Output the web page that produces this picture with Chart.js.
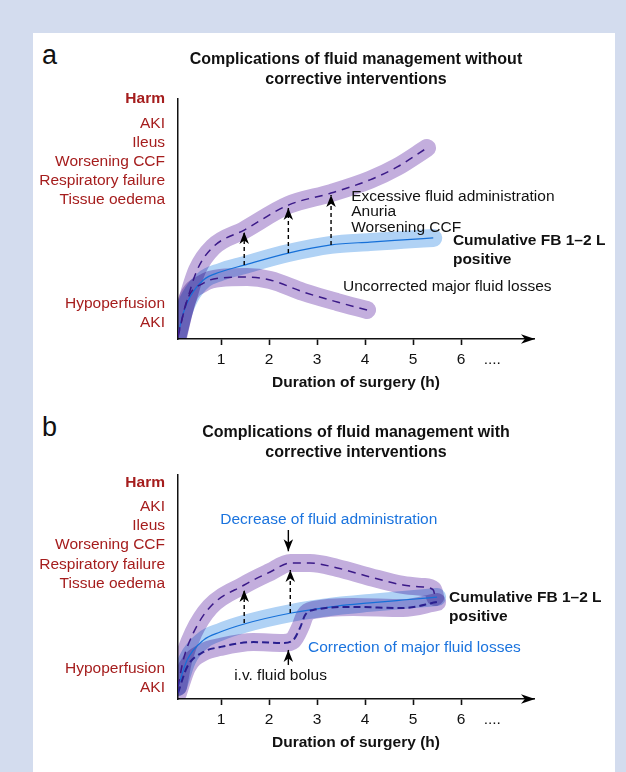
<!DOCTYPE html>
<html>
<head>
<meta charset="utf-8">
<script src="https://cdn.jsdelivr.net/npm/chart.js@4.4.1/dist/chart.umd.min.js"></script>
<style>
  html, body { margin: 0; padding: 0; }
  body { width: 626px; height: 772px; background: #d3dcee; position: relative; overflow: hidden;
         font-family: "Liberation Sans", Arial, sans-serif; }
  #panel { position: absolute; left: 33px; top: 33px; width: 582px; height: 739px; background: #fff; }
  canvas { position: absolute; left: 0; }
  .letter { position: absolute; left: 42px; font-size: 27px; line-height: 27px; color: #111; }
</style>
</head>
<body>
<div id="panel"></div>
<div class="letter" style="top:42px">a</div>
<div class="letter" style="top:414px">b</div>
<canvas id="chartA" width="626" height="395" style="top:0"></canvas>
<canvas id="chartB" width="626" height="377" style="top:395px"></canvas>
<script>
// x axis (hours) and y axis (harm) labels
const xTickValues = [1, 2, 3, 4, 5, 6, 6.65];
const xTickLabels = ['1', '2', '3', '4', '5', '6', '....'];
const harmLabels = ['Harm', 'AKI', 'Ileus', 'Worsening CCF', 'Respiratory failure', 'Tissue oedema', 'Hypoperfusion', 'AKI'];
const harmPosA = [10, 8.96, 8.17, 7.38, 6.58, 5.79, 1.46, 0.67];
const harmPosB = [9.64, 8.57, 7.72, 6.88, 5.98, 5.13, 1.34, 0.49];

// panel a curves [hours, harm]
const excessA = [[0.1, 0.17], [0.25, 1.33], [0.5, 2.88], [0.83, 3.83], [1.48, 4.54], [2.4, 5.58], [3.29, 6.08], [4.1, 6.63], [4.67, 7.17], [5.29, 7.96]];
const balanceA = [[0.1, 0.17], [0.21, 1.08], [0.35, 1.75], [0.63, 2.46], [0.98, 2.79], [1.48, 3.08], [2.4, 3.58], [3.29, 3.92], [4.1, 4.04], [4.79, 4.13], [5.42, 4.21]];
const lossesA = [[0.1, 0.08], [0.29, 1.63], [0.63, 2.33], [0.98, 2.54], [1.54, 2.58], [2.02, 2.46], [2.71, 1.96], [3.42, 1.54], [4.04, 1.21]];
const arrowsA = [[1.48, 3.08, 4.46], [2.4, 3.58, 5.46], [3.29, 3.92, 6.0]];

// panel b curves
const excessB = [[0.1, 0.54], [0.21, 1.74], [0.42, 2.95], [0.77, 4.11], [1.48, 5.09], [2.02, 5.67], [2.44, 6.07], [2.85, 6.07], [3.42, 5.85], [4.1, 5.45], [4.79, 5.09], [5.21, 5.0], [5.42, 4.87], [5.46, 4.55]];
const balanceB = [[0.1, 0.54], [0.29, 1.74], [0.63, 2.63], [0.98, 2.99], [1.48, 3.35], [2.46, 3.84], [3.42, 4.15], [4.1, 4.29], [4.79, 4.42], [5.5, 4.55]];
const lossesB = [[0.1, 0.27], [0.29, 1.43], [0.63, 2.1], [0.98, 2.32], [1.67, 2.54], [2.29, 2.5], [2.5, 2.63], [2.65, 3.21], [2.75, 3.75], [2.92, 3.97], [3.75, 4.11], [4.79, 4.06], [5.5, 4.33]];
const arrowsB = [[1.48, 3.39, 4.87], [2.44, 3.84, 5.76]];
const decreaseArrowB = [2.4, 7.54, 6.6];
const bolusArrowB = [2.4, 1.52, 2.19];

const notesA = [
  { text: 'Excessive fluid administration', x: 3.71, y: 5.92 },
  { text: 'Anuria', x: 3.71, y: 5.29 },
  { text: 'Worsening CCF', x: 3.71, y: 4.63 },
  { text: 'Cumulative FB 1–2 L', x: 5.83, y: 4.08, bold: true },
  { text: 'positive', x: 5.83, y: 3.29, bold: true },
  { text: 'Uncorrected major fluid losses', x: 3.54, y: 2.17 },
];
const notesB = [
  { text: 'Decrease of fluid administration', x: 0.98, y: 7.99, color: '#1a73de' },
  { text: 'Cumulative FB 1–2 L', x: 5.75, y: 4.51, bold: true },
  { text: 'positive', x: 5.75, y: 3.66, bold: true },
  { text: 'Correction of major fluid losses', x: 2.81, y: 2.28, color: '#1a73de' },
  { text: 'i.v. fluid bolus', x: 1.27, y: 1.03 },
];

const FONT = '"Liberation Sans", Arial, sans-serif';
const TXT = 15.5;
Chart.defaults.font.family = FONT;
Chart.defaults.font.size = TXT;
Chart.defaults.color = '#111';

const PURPLE_BAND = '#c3aedd';
const BLUE_BAND = '#b0d2f5';

const toXY = (pts) => pts.map(([x, y]) => ({ x, y }));

function band(pts, color) {
  return {
    data: toXY(pts), borderColor: color, borderWidth: 18, borderCapStyle: 'round', borderJoinStyle: 'round',
    pointRadius: 0, cubicInterpolationMode: 'monotone', band: true, order: 3,
    clip: { left: 0, bottom: 0, top: false, right: false },
  };
}
function line(pts, color, width, dash) {
  return {
    data: toXY(pts), borderColor: color, borderWidth: width, borderDash: dash || [],
    pointRadius: 0, cubicInterpolationMode: 'monotone', order: 1,
    clip: { left: 0, bottom: 0, top: false, right: false },
  };
}
function arrow([x, from, to], dashed) {
  return {
    data: [{ x, y: from }, { x, y: to }], borderColor: '#000', borderWidth: 1.4,
    borderDash: dashed ? [4, 3] : [], pointRadius: 0, arrow: true, order: 0, clip: false,
  };
}

function drawHead(ctx, x0, y0, x1, y1, len, wid) {
  const ang = Math.atan2(y1 - y0, x1 - x0);
  ctx.save();
  ctx.translate(x1, y1);
  ctx.rotate(ang);
  ctx.beginPath();
  ctx.moveTo(0, 0);
  ctx.lineTo(-len, -wid / 2);
  ctx.lineTo(-len * 0.72, 0);
  ctx.lineTo(-len, wid / 2);
  ctx.closePath();
  ctx.fillStyle = '#000';
  ctx.fill();
  ctx.restore();
}

// thick bands overlap like ink (multiply)
const blendBands = {
  id: 'blendBands',
  beforeDatasetDraw(chart, args) {
    if (chart.data.datasets[args.index].band) {
      chart.ctx.save();
      chart.ctx.globalCompositeOperation = 'multiply';
    }
  },
  afterDatasetDraw(chart, args) {
    if (chart.data.datasets[args.index].band) chart.ctx.restore();
  },
};

const arrowHeads = {
  id: 'arrowHeads',
  afterDatasetsDraw(chart) {
    const ctx = chart.ctx;
    chart.data.datasets.forEach((ds, i) => {
      if (!ds.arrow) return;
      const pts = chart.getDatasetMeta(i).data;
      const a = pts[0], b = pts[pts.length - 1];
      drawHead(ctx, a.x, a.y, b.x, b.y, 12, 9.5);
    });
  },
  afterDraw(chart) {
    const { right, bottom } = chart.chartArea;
    drawHead(chart.ctx, right - 20, bottom, right + 1, bottom, 14, 9.5);
  },
};

const notes = {
  id: 'notes',
  afterDraw(chart, args, opts) {
    const { ctx, scales } = chart;
    ctx.save();
    ctx.textBaseline = 'middle';
    ctx.textAlign = 'left';
    (opts.items || []).forEach((n) => {
      ctx.font = (n.bold ? 'bold ' : '') + TXT + 'px ' + FONT;
      ctx.fillStyle = n.color || '#111';
      ctx.fillText(n.text, scales.x.getPixelForValue(n.x), scales.y.getPixelForValue(n.y));
    });
    ctx.restore();
  },
};

function makeChart(el, title, datasets, harmPos, noteItems, padding, titlePad) {
  return new Chart(el, {
    type: 'line',
    data: { datasets },
    plugins: [blendBands, arrowHeads, notes],
    options: {
      responsive: false,
      animation: false,
      layout: { padding },
      plugins: {
        legend: { display: false },
        tooltip: { enabled: false },
        title: {
          display: true, text: title, fullSize: false, color: '#111',
          font: { size: 16, weight: 'bold', lineHeight: 1.2 },
          padding: { top: 0, bottom: titlePad },
        },
        notes: { items: noteItems },
      },
      scales: {
        x: {
          type: 'linear', min: 0.1, max: 7.52,
          afterBuildTicks: (s) => { s.ticks = xTickValues.map((v) => ({ value: v })); },
          ticks: { autoSkip: false, maxRotation: 0, padding: 5, color: '#111', callback: (v, i) => xTickLabels[i] },
          grid: {
            drawOnChartArea: false, drawTicks: true, tickLength: 6, tickWidth: 1.6,
            tickColor: (c) => (c.index === xTickLabels.length - 1 ? 'rgba(0,0,0,0)' : '#111'),
          },
          border: { display: true, color: '#111', width: 1.5 },
          title: {
            display: true, text: 'Duration of surgery (h)', color: '#111',
            font: { size: TXT, weight: 'bold' }, padding: { top: 0, bottom: 2 },
          },
        },
        y: {
          type: 'linear', min: 0, max: 10,
          afterFit: (s) => { s.width = 178; },
          afterBuildTicks: (s) => { s.ticks = harmPos.map((v) => ({ value: v })); },
          ticks: {
            autoSkip: false, padding: 13, color: '#a51d1d',
            font: (c) => ({ size: TXT, weight: c.index === 0 ? 'bold' : 'normal' }),
            callback: (v, i) => harmLabels[i],
          },
          grid: { drawOnChartArea: false, drawTicks: false },
          border: { display: true, color: '#111', width: 1.5 },
        },
      },
    },
  });
}

const DASH = '#3b1a88';
const BLUE = '#1670d8';

makeChart(document.getElementById('chartA'),
  ['Complications of fluid management without', 'corrective interventions'],
  [
    band(excessA, PURPLE_BAND), band(lossesA, PURPLE_BAND), band(balanceA, BLUE_BAND),
    line(excessA, DASH, 1.5, [8, 6]), line(lossesA, DASH, 1.5, [8, 6]), line(balanceA, BLUE, 1.2),
    ...arrowsA.map((a) => arrow(a, true)),
  ],
  harmPosA, notesA, { top: 50.4, left: 0, right: 92, bottom: 0.8 }, 10.2);

makeChart(document.getElementById('chartB'),
  ['Complications of fluid management with', 'corrective interventions'],
  [
    band(excessB, PURPLE_BAND), band(lossesB, PURPLE_BAND), band(balanceB, BLUE_BAND),
    line(excessB, DASH, 1.5, [8, 6]), line(lossesB, '#2a1f8f', 2, [7, 4]), line(balanceB, BLUE, 1.2),
    ...arrowsB.map((a) => arrow(a, true)),
    arrow(decreaseArrowB, false), arrow(bolusArrowB, false),
  ],
  harmPosB, notesB, { top: 28.4, left: 0, right: 92, bottom: 17.8 }, 13.2);
</script>
</body>
</html>
